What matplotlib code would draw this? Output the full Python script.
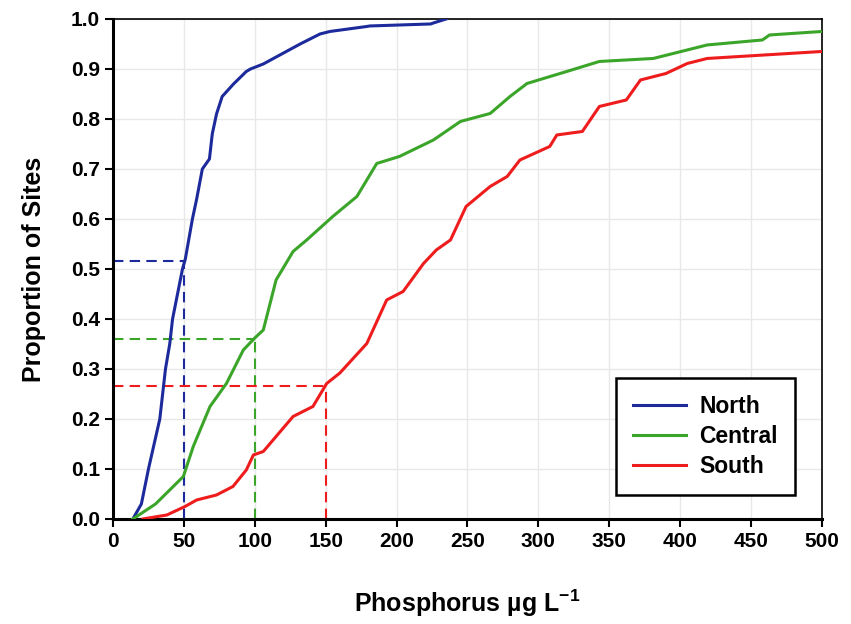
import numpy as np
import matplotlib.pyplot as plt

# cumulative proportion curves
north_x = [14, 20, 25, 33, 37, 40, 42, 49, 51, 56, 59, 63, 68, 70, 73, 77, 85, 94, 97, 106, 119, 132, 146, 153, 179, 181, 224, 226, 235]
north_y = [0.0, 0.03, 0.1, 0.2, 0.3, 0.35, 0.4, 0.5, 0.52, 0.6, 0.64, 0.7, 0.72, 0.77, 0.81, 0.845, 0.87, 0.895, 0.9, 0.91, 0.93, 0.95, 0.97, 0.975, 0.985, 0.986, 0.99, 0.992, 1.0]

central_x = [14, 30, 49.6, 56.6, 68.4, 80, 91.9, 100, 106, 115, 127, 136.6, 155, 172, 186, 202, 226, 245, 266, 280, 292, 320, 343, 381, 419, 458, 463, 500]
central_y = [0.0, 0.03, 0.085, 0.145, 0.225, 0.271, 0.338, 0.362, 0.378, 0.478, 0.535, 0.558, 0.605, 0.645, 0.711, 0.725, 0.758, 0.795, 0.811, 0.845, 0.871, 0.895, 0.915, 0.921, 0.948, 0.958, 0.968, 0.975]

south_x = [21, 38, 50.8, 59, 73, 84.6, 94, 99, 106, 127, 141, 150.7, 160, 179, 193, 204.6, 219, 228, 238, 249, 266, 278, 287, 308, 313, 331, 343, 362, 372, 390, 405, 419, 500]
south_y = [0.0, 0.008, 0.025, 0.038, 0.048, 0.065, 0.098, 0.128, 0.135, 0.205, 0.225, 0.271, 0.292, 0.351, 0.438, 0.455, 0.511, 0.538, 0.558, 0.625, 0.665, 0.685, 0.718, 0.745, 0.768, 0.775, 0.825, 0.838, 0.878, 0.891, 0.911, 0.921, 0.935]

# reference levels (x value, proportion)
ref_x = [50, 100, 150]
ref_y = [0.515, 0.36, 0.265]

colors = ['#1c2a9c', '#3ba52a', '#ee1c1c']
names = ['North', 'Central', 'South']

plt.rcParams['font.family'] = ['Liberation Sans', 'DejaVu Sans']
plt.rcParams['mathtext.fontset'] = 'custom'
plt.rcParams['mathtext.bf'] = 'Liberation Sans:bold'
plt.rcParams['mathtext.rm'] = 'Liberation Sans'
fig = plt.figure(figsize=(8.51, 6.24), dpi=100)
ax = fig.add_axes([0.1328, 0.1683, 0.8331, 0.8013])

for xs, ys, c, n in zip([north_x, central_x, south_x], [north_y, central_y, south_y], colors, names):
    ax.plot(xs, ys, color=c, lw=2.2, label=n, zorder=3)

for rx, ry, c in zip(ref_x, ref_y, colors):
    ax.plot([0, rx], [ry, ry], color=c, lw=1.5, ls=(0, (5, 3)), zorder=2)
    ax.plot([rx, rx], [0, ry], color=c, lw=1.5, ls=(0, (5, 3)), zorder=2)

ax.set_xlim(0, 500)
ax.set_ylim(0, 1.0)
ax.set_xticks(np.arange(0, 501, 50))
ax.set_yticks(np.arange(0, 1.01, 0.1))
ax.set_yticklabels([f'{v:.1f}' for v in np.arange(0, 1.01, 0.1)])
ax.grid(True, color='#e8e8e8', lw=1)
ax.set_axisbelow(True)

for lab in ax.get_xticklabels() + ax.get_yticklabels():
    lab.set_fontweight('bold')
ax.tick_params(labelsize=15, length=6, width=1.5, direction='out')

ax.spines['left'].set_linewidth(2.2)
ax.spines['bottom'].set_linewidth(2.2)
ax.spines['top'].set_linewidth(1.2)
ax.spines['right'].set_linewidth(1.2)

ax.set_xlabel('Phosphorus µg L$^{\\mathbf{-1}}$', fontsize=18, fontweight='bold', labelpad=26)
ax.set_ylabel('Proportion of Sites', fontsize=18, fontweight='bold', labelpad=18)

leg = ax.legend(loc='lower right', bbox_to_anchor=(0.962, 0.048),
                prop={'weight': 'bold', 'size': 16.5}, fancybox=False, framealpha=1,
                edgecolor='black', handlelength=2.3, handletextpad=0.6,
                borderpad=0.75, labelspacing=0.3, borderaxespad=0)
leg.get_frame().set_linewidth(1.8)

fig.savefig('out.png')
